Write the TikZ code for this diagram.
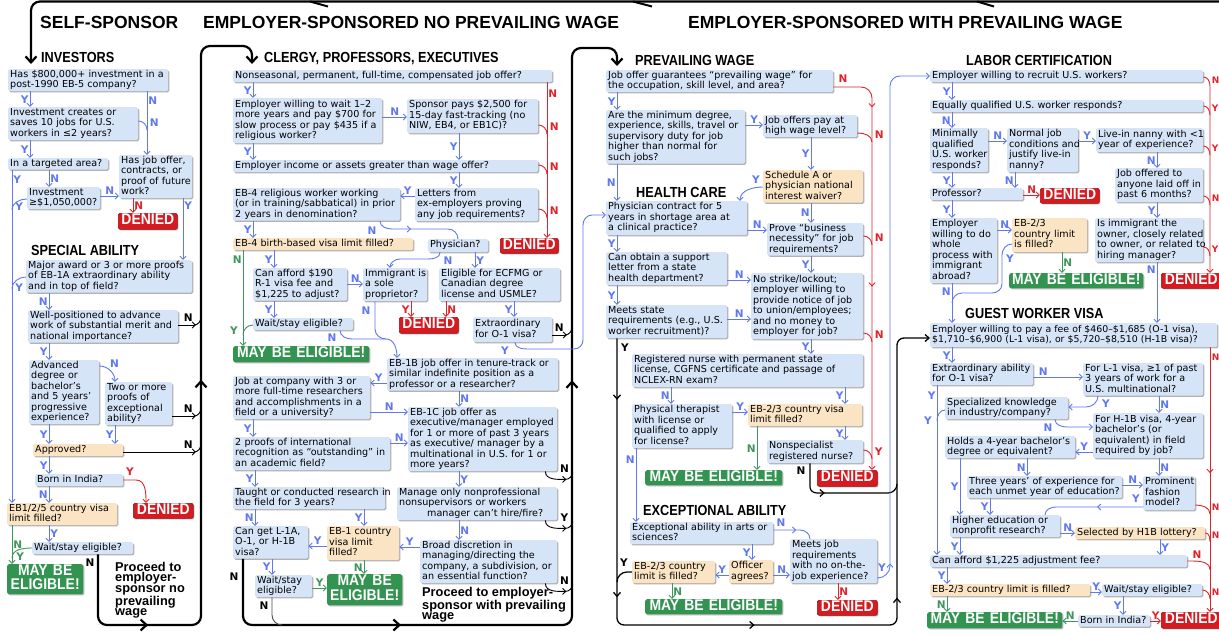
\documentclass[tikz,border=0pt]{standalone}
\usepackage{fontspec}
\newfontfamily\bxf{DejaVu Sans}
\newfontfamily\ttlf{Liberation Sans}
\newfontfamily\hdf{Liberation Sans}[FakeStretch=0.87]
\newfontfamily\cndf{Liberation Sans}[FakeStretch=0.9]
\usetikzlibrary{arrows.meta,shadows,decorations.markings}
\definecolor{qblue}{RGB}{214,228,247}
\definecolor{qtan}{RGB}{250,228,196}
\definecolor{ablue}{RGB}{95,120,240}
\definecolor{ared}{RGB}{222,36,42}
\definecolor{agreen}{RGB}{62,150,92}
\definecolor{mgreen}{RGB}{50,148,80}
\definecolor{mred}{RGB}{215,25,32}
\tikzset{
 qb/.style={fill=qblue, rounded corners=1.5pt, inner xsep=2pt, inner ysep=0.5pt,
   font=\bxf\fontsize{9.6}{10.5}\selectfont, align=left,
   general shadow={fill=black!30, shadow xshift=1.1pt, shadow yshift=-1.1pt}},
 qt/.style={qb, fill=qtan},
 mayst/.style={fill=mgreen, text=white, rounded corners=2pt, inner xsep=2pt, inner ysep=0pt,
   font=\cndf\bfseries\fontsize{15.5}{13.5}\selectfont, align=center,
   general shadow={fill=black!30, shadow xshift=1.1pt, shadow yshift=-1.1pt}},
 denst/.style={mayst, fill=mred, draw=mred!70!black, line width=.6pt},
 lbl/.style={font=\bxf\bfseries\fontsize{10.5}{11}\selectfont, inner sep=1pt},
 lblR/.style={font=\bxf\bfseries\fontsize{9}{10}\selectfont, inner sep=0pt, anchor=west},
 ttl/.style={font=\ttlf\bfseries\fontsize{17.5}{20}\selectfont, inner sep=0pt},
 sechead/.style={font=\hdf\bfseries\fontsize{14.6}{17}\selectfont, inner sep=0pt},
 proc/.style={font=\ttlf\bfseries\fontsize{12.8}{10.4}\selectfont, inner sep=0pt, align=left},
 arB/.style={draw=ablue, color=ablue, line width=0.9pt, -{Straight Barb[length=3.2pt,width=6pt]}},
 lnB/.style={draw=ablue, color=ablue, line width=0.9pt},
 arR/.style={draw=ared, color=ared, line width=0.9pt, -{Straight Barb[length=3.2pt,width=6pt]}},
 lnR/.style={draw=ared, color=ared, line width=0.9pt},
 arG/.style={draw=agreen, color=agreen, line width=0.9pt, -{Straight Barb[length=3.2pt,width=6pt]}},
 lnG/.style={draw=agreen, color=agreen, line width=0.9pt},
 arK/.style={draw=black, color=black, line width=0.9pt, -{Straight Barb[length=3.2pt,width=6pt]}},
 lnK/.style={draw=black, color=black, line width=0.9pt},
 bigK/.style={draw=black, color=black, line width=2.2pt, rounded corners=9pt, -{Straight Barb[length=6pt,width=11pt]}},
 medK/.style={draw=black, color=black, line width=1.3pt, rounded corners=7pt, -{Straight Barb[length=4pt,width=7pt]}},
 marr/.style={postaction={decorate,decoration={markings,mark=at position #1 with {\arrow{Straight Barb[length=3.2pt,width=6pt]}}}}},
 marrK/.style={postaction={decorate,decoration={markings,mark=at position #1 with {\arrow{Straight Barb[length=6pt,width=11pt]}}}}},
 marrM/.style={postaction={decorate,decoration={markings,mark=at position #1 with {\arrow{Straight Barb[length=4pt,width=7pt]}}}}},
}
\newcommand\qbox[7]{%
  \pgfmathsetlengthmacro\qw{(#5)-(#3)}%
  \pgfmathsetlengthmacro\qh{(#6)-(#4)}%
  \pgfmathsetlengthmacro\qtw{(#5)-(#3)-4}%
  \node[#2,anchor=north west,minimum width=\qw,minimum height=\qh,text width=\qtw] (#1) at (#3,#4) {\begin{tabular}{@{}l@{}}#7\end{tabular}};}
\newcommand\rbox[7]{%
  \pgfmathsetlengthmacro\qw{(#5)-(#3)}%
  \pgfmathsetlengthmacro\qh{(#6)-(#4)}%
  \pgfmathsetlengthmacro\qtw{(#5)-(#3)-4}%
  \node[#2,anchor=north west,minimum width=\qw,minimum height=\qh,text width=\qtw] (#1) at (#3,#4) {\begin{tabular}{@{}c@{}}#7\end{tabular}};}
\newcommand\vd[6]{\draw[#1] (#3,0 |- #2.south) -- node[lbl,#6]{#5} (#3,0 |- #4.north);}
\newcommand\hd[6]{\draw[#1] (#2.east |- 0,#3) -- node[lbl,#6]{#5} (#4.west |- 0,#3);}
\newcommand\hl[6]{\draw[#1] (#2.west |- 0,#3) -- node[lbl,#6]{#5} (#4.east |- 0,#3);}
\newcommand\hop[5]{\draw[#1] (#2.east |- 0,#3) to[out=0,in=90] (#4,#3+9) node[lbl,anchor=west] at (#4+1.5,#3+2) {#5};}
\newcommand\hopR[4]{\draw[lnR] (#1.east |- 0,#2) to[out=0,in=90] (1210,#2+9) node[lblR] at (1211.5,#2+2) {#4};}
\newcommand\khop[4]{\draw[arK] (#1.east |- 0,#2) -- (#3-5,#2);
  \draw[lnK] (#3-7,#2) to[out=0,in=-90] (#3,#2-8) node[lbl,anchor=south east] at (#3-7,#2-2) {#4};}
\newcommand\kbhook[2]{\draw[arK] ([shift={(-12,0)}]#1.south east) to[out=-90,in=180] ([shift={(9,8)}]#1.south east);
  \draw[lnK] ([shift={(8,8)}]#1.south east) to[out=0,in=-90] ([shift={(15,1)}]#1.south east) node[lbl] at ([shift={(7,-3)}]#1.south east) {#2};}
\begin{document}
\begin{tikzpicture}[x=1pt,y=-1pt]
\useasboundingbox (0,0) rectangle (1219,635);
\fill[white] (0,0) rectangle (1219,635);
% ---------- titles ----------
\node[ttl,anchor=base west] (t1) at (40,28) {SELF-SPONSOR};
\node[ttl,anchor=base west] (t2) at (203,28) {EMPLOYER-SPONSORED NO PREVAILING WAGE};
\node[ttl,anchor=base west] (t3) at (688,28) {EMPLOYER-SPONSORED WITH PREVAILING WAGE};
\node[sechead,anchor=base west] (s1) at (41,62) {INVESTORS};
\node[sechead,anchor=base west] (s2) at (264,62) {CLERGY, PROFESSORS, EXECUTIVES};
\node[sechead,anchor=base west] (s3) at (635,65) {PREVAILING WAGE};
\node[sechead,anchor=base west] (s4) at (966,65) {LABOR CERTIFICATION};
\node[sechead,anchor=base west] (s5) at (31,255) {SPECIAL ABILITY};
\node[sechead,anchor=base west] (s6) at (636,197) {HEALTH CARE};
\node[sechead,anchor=base west] (s7) at (965,318) {GUEST WORKER VISA};
\node[sechead,anchor=base west] (s8) at (643,515) {EXCEPTIONAL ABILITY};
% ---------- self-sponsor ----------
\qbox{B1}{qb}{8}{69}{168}{90}{Has \$800,000+ investment in a\\post-1990 EB-5 company?}
\qbox{B2}{qb}{8}{107}{138}{140}{Investment creates or\\saves 10 jobs for U.S.\\workers in ≤2 years?}
\qbox{B3}{qb}{8}{158}{108}{169}{In a targeted area?}
\qbox{B4}{qb}{27}{187}{100}{208}{Investment\\≥\$1,050,000?}
\qbox{B5}{qb}{119}{155}{192}{198}{Has job offer,\\contracts, or\\proof of future\\work?}
\qbox{B6}{qb}{26}{260}{192}{292}{Major award or 3 or more proofs\\of EB-1A extraordinary ability\\and in top of field?}
\qbox{B7}{qb}{28}{310}{178}{342}{Well-positioned to advance\\work of substantial merit and\\national importance?}
\qbox{B8}{qb}{29}{360}{99}{424}{Advanced\\degree or\\bachelor’s\\and 5 years’\\progressive\\experience?}
\qbox{B9}{qb}{105}{382}{172}{424}{Two or more\\proofs of\\exceptional\\ability?}
\qbox{B10}{qt}{33}{444}{123}{456}{Approved?}
\qbox{B11}{qb}{35}{474}{123}{486}{Born in India?}
\qbox{B12}{qt}{7}{503}{117}{525}{EB1/2/5 country visa\\limit filled?}
\qbox{B13}{qb}{32}{542}{133}{554}{Wait/stay eligible?}
\node[proc,anchor=north west] (pr1) at (115,562) {Proceed to\\employer-\\sponsor no\\prevailing\\wage};
% ---------- clergy ----------
\qbox{C1}{qb}{233}{70}{552}{82}{Nonseasonal, permanent, full-time, compensated job offer?}
\qbox{C2}{qb}{233}{98}{382}{143}{Employer willing to wait 1–2\\more years and pay \$700 for\\slow process or pay \$435 if a\\religious worker?}
\qbox{C3}{qb}{407}{99}{538}{133}{Sponsor pays \$2,500 for\\15-day fast-tracking (no\\NIW, EB4, or EB1C)?}
\qbox{C4}{qb}{233}{160}{538}{172}{Employer income or assets greater than wage offer?}
\qbox{C5}{qb}{415}{188}{538}{221}{Letters from\\ex-employers proving\\any job requirements?}
\qbox{C6}{qb}{233}{188}{400}{220}{EB-4 religious worker working\\(or in training/sabbatical) in prior\\2 years in denomination?}
\qbox{C7}{qt}{233}{238}{413}{250}{EB-4 birth-based visa limit filled?}
\qbox{Phys}{qb}{428}{239}{488}{252}{Physician?}
\qbox{C8}{qb}{253}{268}{347}{300}{Can afford \$190\\R-1 visa fee and\\\$1,225 to adjust?}
\qbox{C9}{qb}{363}{268}{427}{301}{Immigrant is\\a sole\\proprietor?}
\qbox{C10}{qb}{439}{268}{560}{301}{Eligible for ECFMG or\\Canadian degree\\license and USMLE?}
\qbox{C11}{qb}{473}{317}{552}{342}{Extraordinary\\for O-1 visa?}
\qbox{C13}{qb}{253}{318}{353}{330}{Wait/stay eligible?}
\qbox{C12}{qb}{387}{358}{558}{390}{EB-1B job offer in tenure-track or\\similar indefinite position as a\\professor or a researcher?}
\qbox{C14}{qb}{233}{376}{370}{417}{Job at company with 3 or\\more full-time researchers\\and accomplishments in a\\field or a university?}
\qbox{C15}{qb}{408}{407}{557}{469}{EB-1C job offer as\\executive/manager employed\\for 1 or more of past 3 years\\as executive/ manager by a\\multinational in U.S. for 1 or\\more years?}
\qbox{C20}{qb}{233}{437}{390}{470}{2 proofs of international\\recognition as “outstanding” in\\an academic field?}
\qbox{C21}{qb}{233}{487}{385}{508}{Taught or conducted research in\\the field for 3 years?}
\qbox{C16}{qb}{397}{487}{557}{520}{Manage only nonprofessional\\nonsupervisors or workers\\\hspace*{28pt}manager can’t hire/fire?}
\qbox{C17}{qb}{420}{540}{557}{583}{Broad discretion in\\managing/directing the\\company, a subdivision, or\\an essential function?}
\qbox{C18}{qt}{327}{526}{399}{560}{EB-1 country\\visa limit\\filled?}
\qbox{C19}{qb}{233}{526}{308}{557}{Can get L-1A,\\O-1, or H-1B\\visa?}
\qbox{C22}{qb}{255}{575}{312}{597}{Wait/stay\\eligible?}
\node[proc,anchor=north west] (pr2) at (422,587) {Proceed to employer-\\sponsor with prevailing\\wage};
% ---------- prevailing wage / health / exceptional ----------
\qbox{P1}{qb}{606}{70}{833}{91}{Job offer guarantees “prevailing wage” for\\the occupation, skill level, and area?}
\qbox{P2}{qb}{606}{110}{745}{163}{Are the minimum degree,\\experience, skills, travel or\\supervisory duty for job\\higher than normal for\\such jobs?}
\qbox{P3}{qb}{763}{115}{857}{137}{Job offers pay at\\high wage level?}
\qbox{P4}{qt}{763}{170}{863}{202}{Schedule A or\\physician national\\interest waiver?}
\qbox{P5}{qb}{606}{201}{747}{235}{Physician contract for 5\\years in shortage area at\\a clinical practice?}
\qbox{P6}{qb}{767}{223}{863}{255}{Prove “business\\necessity” for job\\requirements?}
\qbox{P8}{qb}{606}{252}{727}{285}{Can obtain a support\\letter from a state\\health department?}
\qbox{P7}{qb}{751}{273}{863}{339}{No strike/lockout;\\employer willing to\\provide notice of job\\to union/employees;\\and no money to\\employer for job?}
\qbox{P9}{qb}{606}{305}{727}{338}{Meets state\\requirements (e.g., U.S.\\worker recruitment)?}
\qbox{P10}{qb}{632}{354}{863}{387}{Registered nurse with permanent state\\license, CGFNS certificate and passage of\\NCLEX-RN exam?}
\qbox{P11}{qb}{632}{404}{732}{448}{Physical therapist\\with license or\\qualified to apply\\for license?}
\qbox{P12}{qt}{748}{404}{862}{425}{EB-2/3 country visa\\limit filled?}
\qbox{P13}{qb}{767}{440}{863}{463}{Nonspecialist\\registered nurse?}
\qbox{E1}{qb}{630}{522}{773}{543}{Exceptional ability in arts or\\sciences?}
\qbox{E2}{qb}{790}{539}{877}{583}{Meets job\\requirements\\with no on-the-\\job experience?}
\qbox{E3}{qt}{729}{560}{773}{583}{Officer\\agrees?}
\qbox{E4}{qt}{632}{561}{715}{583}{EB-2/3 country\\limit is filled?}
% ---------- labor certification / guest worker ----------
\qbox{L1}{qb}{930}{70}{1203}{82}{Employer willing to recruit U.S. workers?}
\qbox{L2}{qb}{930}{100}{1203}{112}{Equally qualified U.S. worker responds?}
\qbox{L3}{qb}{930}{128}{988}{172}{Minimally\\qualified\\U.S. worker\\responds?}
\qbox{L4}{qb}{1007}{128}{1078}{172}{Normal job\\conditions and\\justify live-in\\nanny?}
\qbox{L5}{qb}{1096}{128}{1203}{152}{Live-in nanny with <1\\year of experience?}
\qbox{L6}{qb}{1115}{168}{1203}{202}{Job offered to\\anyone laid off in\\past 6 months?}
\qbox{Prof}{qb}{930}{188}{1023}{200}{Professor?}
\qbox{L8}{qb}{930}{218}{997}{283}{Employer\\willing to do\\whole\\process with\\immigrant\\abroad?}
\qbox{L9}{qt}{1012}{218}{1087}{252}{EB-2/3\\country limit\\is filled?}
\qbox{L7}{qb}{1095}{218}{1203}{262}{Is immigrant the\\owner, closely related\\to owner, or related to\\hiring manager?}
\qbox{G1}{qb,font=\bxf\fontsize{9.35}{10.5}\selectfont}{930}{323}{1217}{347}{Employer willing to pay a fee of \$460–\$1,685 (O-1 visa),\\\$1,710–\$6,900 (L-1 visa), or \$5,720–\$8,510 (H-1B visa)?}
\qbox{G2}{qb}{930}{363}{1033}{384}{Extraordinary ability\\for O-1 visa?}
\qbox{G3}{qb}{1083}{363}{1203}{395}{For L-1 visa, ≥1 of past\\3 years of work for a\\U.S. multinational?}
\qbox{G4}{qb}{945}{397}{1068}{418}{Specialized knowledge\\in industry/company?}
\qbox{G5}{qb}{1093}{413}{1203}{458}{For H-1B visa, 4-year\\bachelor’s (or\\equivalent) in field\\required by job?}
\qbox{G6}{qb}{945}{436}{1075}{458}{Holds a 4-year bachelor’s\\degree or equivalent?}
\qbox{G7}{qb}{967}{476}{1122}{498}{Three years’ of experience for\\each unmet year of education?}
\qbox{G8}{qb}{1143}{476}{1195}{510}{Prominent\\fashion\\model?}
\qbox{G9}{qb}{950}{515}{1060}{537}{Higher education or\\nonprofit research?}
\qbox{G10}{qt}{1075}{527}{1205}{539}{Selected by H1B lottery?}
\qbox{G11}{qb}{930}{555}{1187}{567}{Can afford \$1,225 adjustment fee?}
\qbox{G12}{qt}{930}{584}{1090}{596}{EB-2/3 country limit is filled?}
\qbox{G13}{qb}{1102}{584}{1202}{596}{Wait/stay eligible?}
\qbox{G14}{qb}{1078}{615}{1150}{626}{Born in India?}
% ---------- results ----------
\rbox{D1}{denst}{118}{213}{177}{229}{DENIED}
\rbox{D2}{denst}{133}{503}{193}{518}{DENIED}
\rbox{D3}{denst}{500}{238}{558}{253}{DENIED}
\rbox{D4}{denst}{399}{317}{458}{333}{DENIED}
\rbox{D5}{denst}{817}{470}{877}{486}{DENIED}
\rbox{D6}{denst}{817}{600}{877}{615}{DENIED}
\rbox{D7}{denst}{1040}{188}{1099}{203}{DENIED}
\rbox{D8}{denst}{1161}{273}{1221}{288}{DENIED}
\rbox{D9}{denst}{1161}{612}{1221}{628}{DENIED}
\rbox{M1}{mayst}{7}{564}{83}{594}{MAY BE\\ELIGIBLE!}
\rbox{M2}{mayst}{233}{346}{369}{362}{MAY BE ELIGIBLE!}
\rbox{M3}{mayst}{327}{574}{402}{605}{MAY BE\\ELIGIBLE!}
\rbox{M4}{mayst}{645}{470}{782}{485}{MAY BE ELIGIBLE!}
\rbox{M5}{mayst}{645}{599}{782}{614}{MAY BE ELIGIBLE!}
\rbox{M6}{mayst}{1009}{273}{1143}{288}{MAY BE ELIGIBLE!}
\rbox{M7}{mayst}{927}{612}{1062}{628}{MAY BE ELIGIBLE!}
% ---------- big black flow lines ----------
\coordinate (ktop) at (1219,1.5);
\coordinate (kinv) at (31,64);
\draw[bigK] (ktop) -- (31,1.5) -- (kinv);
\draw[line width=2pt] (310,1.5) -- (328,6.5) (633,1.5) -- (652,6.5) (977,1.5) -- (994,6.5);
\coordinate (k1e) at (252,64);
\draw[bigK, marrK=0.145, marrK=0.51] (98,0 |- B13.south) -- (98,625) -- (201,625) -- (201,46) -- (252,46) -- (k1e) node[lbl] at (90,563) {N};
\coordinate (k2e) at (617,66);
\draw[bigK, marrK=0.216, marrK=0.62] (243,0 |- C19.south) -- (243,625) -- (572,625) -- (572,48) -- (617,48) -- (k2e) node[lbl] at (234,577) {N};
\draw[lnK, draw=black!70] (272,0 |- C22.south) -- (272,615) to[out=-90,in=180] (282,625) node[lbl] at (264,606) {N};
\draw[medK, marrM=0.07, marrM=0.295, marrM=0.48, marrM=0.67] (617,0 |- P9.south) -- (617,625) -- (897,625) -- (897,338) -- (G1.west |- 0,338) node[lbl] at (625,348) {Y};
\draw[lnK, line width=1.2pt, marrM=0.35] (810,0 |- P13.south) -- (810,487) to[out=-90,in=180] (817,493) -- (888,493) to[out=0,in=-90] (897,484) node[lbl] at (801,471) {N};
\draw[lnK, line width=1.2pt] (E4.west |- 0,572) -- (627,572) to[out=180,in=90] (617,582) node[lbl] at (624,563) {Y};
% ---------- self-sponsor connectors ----------
\vd{arB}{B1}{30}{B2}{Y}{left}
\draw[arB] (147,0 |- B1.south) -- node[lbl,right,pos=.14]{N} (147,0 |- B5.north);
\hop{lnB}{B2}{121}{147}{N}
\vd{arB}{B2}{30}{B3}{Y}{left}
\vd{arB}{B3}{49}{B4}{N}{right}
\vd{arB}{B3}{12}{B12}{Y}{right,pos=.03}
\hd{arB}{B4}{196}{B5}{N}{above}
\draw[lnB] (B4.west |- 0,199) to[out=180,in=90] (12,210) node[lbl,anchor=west] at (14,207) {Y};
\vd{arR}{B5}{133}{D1}{N}{right}
\vd{arB}{B5}{183}{B6}{Y}{right,pos=.12}
\draw[lnB] (B6.west |- 0,277) to[out=180,in=90] (12,289) node[lbl,anchor=west] at (14,288) {Y};
\vd{arB}{B6}{49}{B7}{N}{left}
\khop{B7}{325}{201}{N}
\vd{arB}{B7}{49}{B8}{Y}{left}
\draw[arB] (B8.east |- 0,366) to[out=0,in=90] node[lbl,above right,pos=.4]{N} (115,0 |- B9.north);
\khop{B9}{416}{201}{N}
\vd{arB}{B8}{49}{B10}{Y}{left}
\vd{arB}{B9}{115}{B10}{Y}{left}
\khop{B10}{452}{201}{N}
\vd{arB}{B10}{49}{B11}{Y}{left}
\draw[arR] (B11.east |- 0,480) -- (136,480) to[out=0,in=90] (146,0 |- D2.north) node[lbl] at (130,472) {Y};
\vd{arB}{B11}{49}{B12}{N}{left}
\vd{arB}{B12}{49}{B13}{Y}{right}
\vd{arG}{B12}{12}{M1}{N}{right}
\draw[lnG] (B13.west |- 0,548) to[out=180,in=90] (12,558) node[lbl,anchor=west] at (15,557) {Y};
% ---------- clergy connectors ----------
\draw[arR] (547,0 |- C1.south) -- node[lbl,right,pos=.07]{N} (547,0 |- D3.north);
\hop{lnR}{C3}{125}{547}{N}
\hop{lnR}{C4}{165}{547}{N}
\hop{lnR}{C5}{209}{547}{N}
\vd{arB}{C1}{253}{C2}{Y}{left}
\hd{arB}{C2}{117}{C3}{N}{above}
\vd{arB}{C3}{459}{C4}{Y}{left}
\vd{arB}{C2}{253}{C4}{Y}{left}
\vd{arB}{C4}{459}{C5}{Y}{left}
\hl{arB}{C5}{196}{C6}{Y}{above}
\draw[lnB, marr=0.4] (380,0 |- C6.south) to[out=-90,in=180] (392,229) -- (448,229) to[out=0,in=90] (458,0 |- Phys.north) node[lbl] at (372,231) {N};
\vd{arB}{C6}{253}{C7}{Y}{left}
\vd{arB}{C7}{274}{C8}{Y}{left}
\vd{arG}{C7}{243}{M2}{N}{left,pos=.1}
\draw[arB] (440,0 |- Phys.south) to[out=-90,in=0] (428,259) -- (400,259) to[out=180,in=90] (390,0 |- C9.north) node[lbl] at (448,261) {N};
\vd{arB}{Phys}{475}{C10}{Y}{right}
\hd{arB}{C8}{284}{C9}{N}{above}
\vd{arR}{C9}{411}{D4}{Y}{left}
\vd{arR}{C10}{446}{D4}{N}{right}
\vd{arB}{C10}{514}{C11}{Y}{left}
\khop{C11}{335}{572}{N}
\draw[arB] (515,0 |- C11.south) to[out=-90,in=180] (527,349) -- (574,349) to[out=0,in=-90] (583,340) -- (583,225) to[out=90,in=180] (592,215) -- (P5.west |- 0,215) node[lbl] at (505,351) {Y};
\vd{arB}{C8}{274}{C13}{Y}{left}
\draw[lnG] (C13.west |- 0,325) to[out=180,in=90] (243,335) node[lbl] at (234,331) {Y};
\draw[arB] (340,0 |- C13.south) to[out=-90,in=180] (352,339) -- (386,339) to[out=0,in=90] (397,0 |- C12.north) node[lbl] at (332,338) {N};
\draw[lnB] (375,0 |- C9.south) -- (375,329) to[out=-90,in=180] (386,339) node[lbl] at (366,311) {N};
\hl{arB}{C12}{383}{C14}{Y}{above}
\vd{arB}{C12}{459}{C15}{N}{right}
\hd{arB}{C14}{412}{C15}{N}{above}
\vd{arB}{C14}{253}{C20}{Y}{left}
\hd{arB}{C20}{443}{C15}{N}{above}
\vd{arB}{C20}{255}{C21}{Y}{left}
\vd{arB}{C15}{459}{C16}{Y}{right}
\vd{arB}{C16}{459}{C17}{N}{right}
\kbhook{C15}{N}
\kbhook{C16}{Y}
\kbhook{C17}{N}
\hl{arB}{C17}{547}{C18}{Y}{above}
\vd{arB}{C21}{364}{C18}{Y}{left}
\vd{arB}{C21}{255}{C19}{N}{left}
\hl{arB}{C18}{546}{C19}{Y}{above}
\vd{arG}{C18}{364}{M3}{N}{left}
\vd{arB}{C19}{272}{C22}{Y}{left}
\hd{arG}{C22}{588}{M3}{Y}{above}
% ---------- prevailing connectors ----------
\draw[arR, marr=0.13, marr=0.56] (P1.east |- 0,87) -- (861,87) to[out=0,in=90] (872,98) -- (872,0 |- D5.north) node[lbl] at (843,79) {N};
\hop{lnR}{P3}{133}{872}{N}
\hop{lnR}{P6}{236}{872}{N}
\hop{lnR}{P7}{333}{872}{N}
\hop{lnR}{P13}{450}{872}{Y}
\vd{arB}{P1}{617}{P2}{Y}{left}
\hd{arB}{P2}{125}{P3}{Y}{above}
\vd{arB}{P3}{811}{P4}{Y}{left}
\draw[arB] (P4.west |- 0,187) to[out=180,in=90] (740,0 |- P5.north) node[lbl] at (756,180) {Y};
\vd{arB}{P2}{617}{P5}{N}{left}
\vd{arB}{P4}{811}{P6}{N}{left}
\hd{arB}{P5}{230}{P6}{N}{above}
\vd{arB}{P6}{811}{P7}{Y}{left}
\vd{arB}{P5}{617}{P8}{Y}{left}
\hd{arB}{P8}{280}{P7}{N}{above}
\vd{arB}{P8}{617}{P9}{Y}{left}
\hd{arB}{P9}{319}{P7}{N}{above}
\vd{arB}{P7}{811}{P10}{Y}{left}
\vd{arB}{P10}{671}{P11}{N}{left}
\vd{arB}{P10}{845}{P12}{Y}{left}
\hd{arB}{P11}{412}{P12}{Y}{above}
\vd{arG}{P12}{757}{M4}{N}{left}
\vd{arB}{P12}{845}{P13}{Y}{left}
\vd{arB}{P11}{636}{E1}{N}{left,pos=.15}
\draw[lnB, marr=0.55] (E1.east |- 0,530) -- (800,530) to[out=0,in=90] (810,0 |- E2.north) node[lbl] at (781,523) {N};
\vd{arB}{E1}{752}{E3}{Y}{left}
\hd{arB}{E3}{575}{E2}{N}{above}
\hl{arB}{E3}{575}{E4}{Y}{above}
\vd{arG}{E4}{672}{M5}{N}{right}
\vd{arR}{E2}{838}{D6}{N}{right}
\draw[arB, marr=0.04] (E2.east |- 0,578) to[out=0,in=-90] (890,566) -- (890,86) to[out=90,in=180] (900,76) -- (L1.west |- 0,76) node[lbl] at (882,568) {Y};
% ---------- labor connectors ----------
\draw[arR] (L1.east |- 0,77) to[out=0,in=90] (1210,86) -- (1210,0 |- D8.north) node[lblR] at (1211.5,80) {N};
\hopR{L2}{106}{1210}{Y}
\hopR{L5}{146}{1210}{Y}
\hopR{L6}{196}{1210}{N}
\hopR{L7}{247}{1210}{Y}
\vd{arB}{L1}{952}{L2}{Y}{left}
\vd{arB}{L2}{952}{L3}{N}{left}
\hd{arB}{L3}{141}{L4}{N}{above}
\hd{arB}{L4}{141}{L5}{Y}{above}
\vd{arB}{L5}{1157}{L6}{N}{left}
\vd{arB}{L6}{1157}{L7}{Y}{left}
\vd{arB}{L4}{1015}{Prof}{N}{left}
\vd{arB}{L3}{952}{Prof}{Y}{left}
\hd{arR}{Prof}{195}{D7}{N}{above}
\vd{arB}{Prof}{952}{L8}{Y}{left}
\hd{arB}{L8}{230}{L9}{N}{above}
\vd{arG}{L9}{1062}{M6}{N}{right}
\draw[lnB] (L9.west |- 0,244) to[out=180,in=90] (1002,255) -- (1002,284) to[out=-90,in=0] (992,293) -- (962,293) to[out=180,in=90] (952,303) node[lbl] at (1010,259) {Y};
\vd{arB}{L8}{952}{G1}{N}{left,pos=.2}
\vd{arB}{L7}{1157}{G1}{N}{left,pos=.12}
% ---------- guest worker connectors ----------
\draw[arR, marr=0.475] (1210,0 |- G1.south) -- (1210,0 |- D9.north) node[lblR] at (1211.5,357) {N};
\hopR{G8}{505}{1210}{N}
\hopR{G10}{533}{1210}{N}
\draw[lnR] (G11.east |- 0,561) to[out=0,in=90] (1210,570) node[lbl] at (1197,555) {N};
\hopR{G13}{590}{1210}{N}
\vd{arB}{G1}{952}{G2}{Y}{left}
\hd{arB}{G2}{377}{G3}{N}{above,pos=.2}
\vd{arB}{G3}{1159}{G5}{N}{right}
\draw[arB] (1098,0 |- G3.south) to[out=-90,in=0] (1086,407) -- (G4.east |- 0,407) node[lbl] at (1106,404) {Y};
\vd{arB}{G2}{937}{G11}{Y}{left,pos=.06}
\draw[lnB] (G4.west |- 0,410) to[out=180,in=90] (937,421) node[lbl] at (928,421) {Y};
\draw[arB] (1055,0 |- G4.south) to[out=-90,in=180] (1067,427) -- (G5.west |- 0,427) node[lbl] at (1048,428) {N};
\hl{arB}{G5}{452}{G6}{Y}{above}
\vd{arB}{G5}{1159}{G8}{N}{right}
\vd{arB}{G6}{960}{G9}{Y}{left}
\vd{arB}{G6}{1027}{G7}{N}{left}
\hd{arB}{G7}{485}{G8}{N}{above}
\vd{arB}{G7}{990}{G9}{Y}{left}
\draw[lnB, marr=0.45] (G8.west |- 0,507) -- (1056,507) to[out=180,in=90] (1045,0 |- G9.north) node[lbl] at (1136,499) {Y};
\hd{arB}{G9}{533}{G10}{N}{above}
\vd{arB}{G10}{1160}{G11}{Y}{right}
\vd{arB}{G9}{960}{G11}{Y}{left}
\vd{arB}{G11}{947}{G12}{Y}{left}
\hd{arB}{G12}{592}{G13}{Y}{above}
\vd{arG}{G12}{947}{M7}{N}{left}
\vd{arB}{G13}{1123}{G14}{Y}{left}
\hl{arG}{G14}{621}{M7}{N}{above}
\hd{arR}{G14}{621}{D9}{Y}{above}
\end{tikzpicture}
\end{document}
